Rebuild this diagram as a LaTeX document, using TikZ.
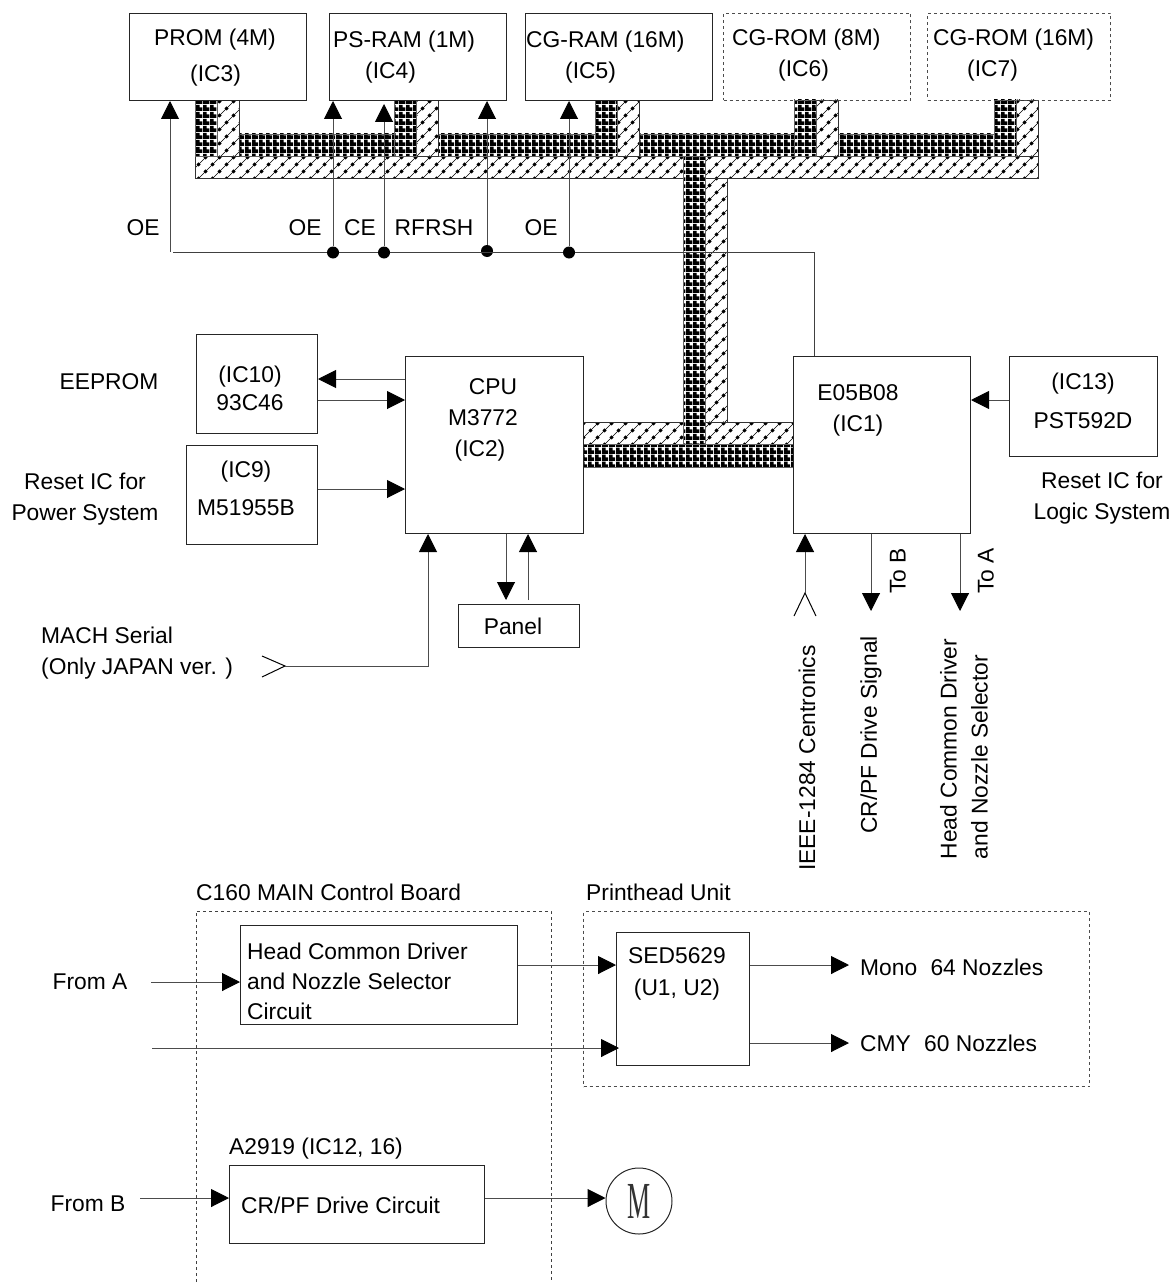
\documentclass[tikz,border=0pt]{standalone}
\usepackage{fontspec}
\setmainfont{Liberation Sans}
\newfontfamily\motorfont{Liberation Serif}
\usetikzlibrary{arrows.meta,patterns}
\pgfdeclarepatternformonly{tramaoscura}{\pgfpointorigin}{\pgfqpoint{7pt}{7pt}}{\pgfqpoint{7pt}{7pt}}{%
  \pgfpathrectangle{\pgfpointorigin}{\pgfqpoint{7pt}{4pt}}%
  \pgfpathrectangle{\pgfpointorigin}{\pgfqpoint{4pt}{7pt}}%
  \pgfusepath{fill}}
\pgfdeclarepatternformonly{tramadiag}{\pgfqpoint{-1pt}{-1pt}}{\pgfqpoint{15pt}{15pt}}{\pgfqpoint{14pt}{14pt}}{%
  \pgfsetlinewidth{0.5pt}%
  \pgfpathmoveto{\pgfpointorigin}\pgfpathlineto{\pgfqpoint{14pt}{14pt}}\pgfusepath{stroke}%
  \pgfsetlinewidth{3pt}%
  \pgfpathmoveto{\pgfqpoint{1.5pt}{1.5pt}}\pgfpathlineto{\pgfqpoint{3.5pt}{3.5pt}}\pgfusepath{stroke}%
  \pgfpathmoveto{\pgfqpoint{8.5pt}{8.5pt}}\pgfpathlineto{\pgfqpoint{10.5pt}{10.5pt}}\pgfusepath{stroke}}
\begin{document}
\begin{tikzpicture}[x=1pt,y=-1pt,
        caja/.style={draw=black!85, line width=1pt, minimum width=#1, inner sep=0pt, anchor=north west},
        cajapunto/.style={caja=#1, draw=black!70, dash pattern=on 3pt off 3pt},
        rotulo/.style={font=\fontsize{22.8}{31}\selectfont, inner sep=0pt, align=left},
        rotuloizq/.style={rotulo, anchor=west},
        vertical/.style={rotulo, rotate=90},
        flecha/.style={-{Triangle[width=18pt,length=18pt,color=black,fill=black]}, line width=1pt, black!70},
        linea/.style={line width=1pt, black!75},
        punto/.style={circle, fill=black, minimum size=12pt, inner sep=0pt},
        oscuro/.style={preaction={fill=white}, pattern=tramaoscura, draw=black!60, line width=.8pt},
        rayado/.style={preaction={fill=white}, pattern=tramadiag, draw=black!80, line width=.8pt}]
    \useasboundingbox (0,0) rectangle (1175,1287);
    % buses
    \draw[rayado] (195,156) rectangle (1038,178);
    \draw[oscuro] (195,134) rectangle (1016,156);
    \draw[rayado] (705,178) rectangle (727,422);
    \draw[rayado] (583,422) rectangle (793,444);
    \draw[oscuro] (583,444) rectangle (793,467);
    \draw[oscuro] (683,156) rectangle (705,444);
    \foreach \xbus in {195,394,595,794,994} {
        \draw[rayado] (\xbus+22,100) rectangle (\xbus+44,156);
        \draw[oscuro] (\xbus,100) rectangle (\xbus+22,156);
    }
    % memorias
    \node[caja=177pt, minimum height=87pt, fill=white] (prom) at (129,13) {};
    \node[caja=177pt, minimum height=87pt, fill=white] (psram) at (329,13) {};
    \node[caja=187pt, minimum height=87pt, fill=white] (cgram) at (525,13) {};
    \node[cajapunto=187pt, minimum height=87pt] (cgrom8) at (723,13) {};
    \node[cajapunto=183pt, minimum height=87pt] (cgrom16) at (927,13) {};
    \node[rotuloizq, font=\fontsize{22.8}{36}\selectfont] (promt) at (154,58) {PROM (4M)\\\hspace*{36pt}(IC3)};
    \node[rotuloizq] (psramt) at (333,57) {PS-RAM (1M)\\\hspace*{32pt}(IC4)};
    \node[rotuloizq] (cgramt) at (526,57) {CG-RAM (16M)\\\hspace*{39pt}(IC5)};
    \node[rotuloizq] (cgrom8t) at (732,55) {CG-ROM (8M)\\\hspace*{46pt}(IC6)};
    \node[rotuloizq] (cgrom16t) at (933,55) {CG-ROM (16M)\\\hspace*{34pt}(IC7)};
    % bloques centrales
    \node[caja=121pt, minimum height=99pt] (ic10) at (196,334) {};
    \node[caja=131pt, minimum height=99pt] (ic9) at (186,445) {};
    \node[caja=178pt, minimum height=177pt, fill=white] (cpu) at (405,356) {};
    \node[caja=177pt, minimum height=177pt, fill=white] (e05) at (793,356) {};
    \node[caja=148pt, minimum height=100pt] (ic13) at (1009,356) {};
    \node[caja=121pt, minimum height=43pt] (panel) at (458,604) {};
    \node[rotulo, align=center, font=\fontsize{22.8}{28}\selectfont] (ic10t) at (250,388) {(IC10)\\93C46};
    \node[rotulo, align=center, font=\fontsize{22.8}{38}\selectfont] (ic9t) at (246,488) {(IC9)\\M51955B};
    \node[rotulo, align=center] (cput) at (483,420) {\hspace*{20pt}CPU\\M3772\\\hspace*{-6pt}(IC2)};
    \node[rotulo, align=center] (e05t) at (858,410) {E05B08\\(IC1)};
    \node[rotulo, align=center, font=\fontsize{22.8}{39}\selectfont] (ic13t) at (1083,401) {(IC13)\\PST592D};
    \node[rotulo] (panelt) at (513,626) {Panel};
    \node[rotulo] (eeprom) at (109,382) {EEPROM};
    \node[rotulo, align=center] (resetp) at (85,499) {Reset IC for\\Power System};
    \node[rotulo, align=center] (resetl) at (1102,498) {Reset IC for\\Logic System};
    \node[rotuloizq] (mach) at (41,653) {MACH Serial\\(Only JAPAN ver. )};
    % senales de memoria
    \node[rotulo] (oe1) at (143,228) {OE};
    \node[rotulo] (oe2) at (305,228) {OE};
    \node[rotulo] (ce) at (360,228) {CE};
    \node[rotulo] (rfrsh) at (434,228) {RFRSH};
    \node[rotulo] (oe3) at (541,228) {OE};
    \coordinate (oeini) at (170,252);
    \coordinate (linini) at (173,252.5);
    \node[punto] (p1) at (333,252.5) {};
    \node[punto] (p2) at (384,252.5) {};
    \node[punto] (p3) at (487,251) {};
    \node[punto] (p4) at (569,252.5) {};
    \draw[linea] (linini) -- (p1) -- (p2) -- (p3 |- linini) -- (p4) -- (814,252.5) -- (814,356);
    \draw[flecha] (oeini) -- (prom.south -| oeini);
    \draw[flecha] (p1) -- (psram.south -| p1);
    \draw[flecha] (p2) -- ([yshift=-3pt]psram.south -| p2);
    \draw[flecha] (p3) -- (psram.south -| p3);
    \draw[flecha] (p4) -- (cgram.south -| p4);
    % flechas de los bloques
    \draw[flecha] (cpu.west |- 0,379) -- (ic10.east |- 0,379);
    \draw[flecha] (ic10.east |- 0,400) -- (cpu.west |- 0,400);
    \draw[flecha] (ic9.east |- 0,489) -- (cpu.west |- 0,489);
    \draw[flecha] (ic13.west |- 0,400) -- (e05.east |- 0,400);
    \coordinate (panelsal) at (528,600);
    \coordinate (panelent) at (506,600);
    \draw[flecha] (cpu.south -| panelent) -- (panelent);
    \draw[flecha] (panelsal) -- (cpu.south -| panelsal);
    \coordinate (machfin) at (285,666);
    \coordinate (macha) at (262,656);
    \coordinate (machb) at (262,677);
    \draw[linea, black] (macha) -- (machfin) -- (machb);
    \draw[flecha] (machfin) -- (428,666) -- (cpu.south -| 428,0);
    \coordinate (ieeefin) at (805,593);
    \coordinate (ieeea) at (794,616);
    \coordinate (ieeeb) at (816,616);
    \draw[linea, black] (ieeea) -- (ieeefin) -- (ieeeb);
    \draw[flecha] (ieeefin) -- (e05.south -| ieeefin);
    \coordinate (tob) at (871,611);
    \coordinate (toa) at (960,611);
    \draw[flecha] (e05.south -| tob) -- (tob);
    \draw[flecha] (e05.south -| toa) -- (toa);
    \node[vertical] (tobt) at (898,571) {To B};
    \node[vertical] (toat) at (986,571) {To A};
    \node[vertical] (ieeet) at (807,758) {IEEE-1284 Centronics};
    \node[vertical] (crpft) at (871,735) {CR/PF Drive Signal};
    \node[vertical] (headt) at (964,749) {Head Common Driver\\and Nozzle Selector};
    % parte inferior
    \node[rotuloizq] (boardt) at (196,892) {C160 MAIN Control Board};
    \node[rotuloizq] (unitt) at (586,892) {Printhead Unit};
    \coordinate (placaa) at (196,1282);
    \coordinate (placab) at (196,911);
    \coordinate (placac) at (551,911);
    \coordinate (placad) at (551,1282);
    \draw[linea, dash pattern=on 3pt off 3pt] (placaa) -- (placab) -- (placac) -- (placad);
    \node[cajapunto=506pt, minimum height=175pt] (unit) at (583,911) {};
    \node[caja=277pt, minimum height=99pt] (head) at (240,925) {};
    \node[caja=133pt, minimum height=133pt] (sed) at (616,932) {};
    \node[caja=255pt, minimum height=78pt] (drive) at (229,1165) {};
    \node[circle, draw=black!85, line width=1pt, minimum size=66pt, inner sep=0pt] (motor) at (639,1201) {\motorfont\fontsize{52}{52}\selectfont\color{black!80}\scalebox{.5}[1]{M}};
    \node[rotuloizq, font=\fontsize{22.8}{30}\selectfont] (headtxt) at (247,981) {Head Common Driver\\and Nozzle Selector\\Circuit};
    \node[rotulo, align=center, font=\fontsize{22.8}{32}\selectfont] (sedt) at (677,974) {SED5629\\(U1, U2)};
    \node[rotuloizq] (drivet) at (241,1205) {CR/PF Drive Circuit};
    \node[rotuloizq] (a2919) at (229,1149) {A2919 (IC12, 16)};
    \node[rotulo] (froma) at (90,982) {From A};
    \node[rotulo] (fromb) at (88,1204) {From B};
    \node[rotuloizq] (mono) at (860,967) {Mono\hspace*{7pt} 64 Nozzles};
    \node[rotuloizq] (cmy) at (860,1043) {CMY\hspace*{7pt} 60 Nozzles};
    \coordinate (aini) at (151,982);
    \coordinate (cini) at (152,1048);
    \coordinate (bini) at (140,1198);
    \draw[flecha] (aini) -- (head.west |- aini);
    \draw[flecha] (head.east |- 0,965) -- (sed.west |- 0,965);
    \draw[flecha] (cini) -- ([xshift=3pt]sed.west |- cini);
    \draw[flecha] (sed.east |- 0,965) -- (849,965);
    \draw[flecha] (sed.east |- 0,1043) -- (849,1043);
    \draw[flecha] (bini) -- (drive.west |- bini);
    \draw[flecha] (drive.east |- bini) -- (motor.west |- bini);
\end{tikzpicture}
\end{document}
